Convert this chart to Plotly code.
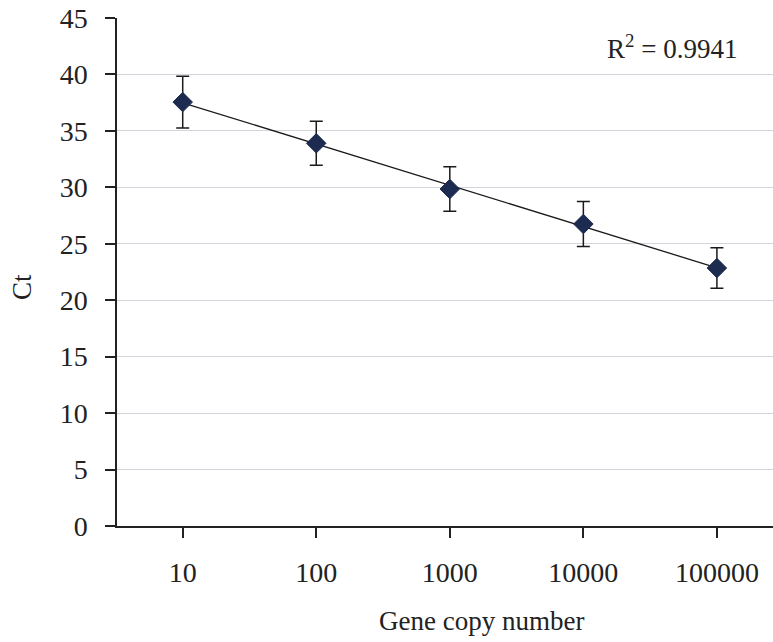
import numpy as np
import plotly.graph_objects as go

copies = [10, 100, 1000, 10000, 100000]
tick_labels = ["10", "100", "1000", "10000", "100000"]
ct_mean = [37.55, 33.9, 29.85, 26.75, 22.85]
ct_err = [2.3, 1.95, 1.97, 2.0, 1.8]
r2_text = "R<sup>2</sup> = 0.9941"

# linear trend of Ct vs log10(copies)
lx = np.log10(copies)
slope, intercept = np.polyfit(lx, ct_mean, 1)
trend_x = [copies[0], copies[-1]]
trend_y = [intercept + slope * np.log10(v) for v in trend_x]

FONT = "Liberation Serif"
FS = 27
TFS = 28
fig = go.Figure()
fig.add_trace(go.Scatter(
    x=trend_x, y=trend_y, mode="lines",
    line=dict(color="#1a1a1a", width=1.3), hoverinfo="skip", showlegend=False))
fig.add_trace(go.Scatter(
    x=copies, y=ct_mean, mode="markers",
    marker=dict(symbol="diamond", size=15, color="#1c2b4f",
                line=dict(color="#1c2b4f", width=1)),
    error_y=dict(type="data", array=ct_err, visible=True,
                 color="#1a1a1a", thickness=1.5, width=6.5),
    showlegend=False))

fig.update_layout(
    width=773, height=642,
    margin=dict(l=117, r=0, t=18, b=116),
    paper_bgcolor="white", plot_bgcolor="white",
    font=dict(family=FONT, size=FS, color="#222222"),
    xaxis=dict(type="log", range=[0.508, 5.42],
               tickvals=copies, ticktext=tick_labels,
               tickfont=dict(family=FONT, size=TFS, color="#222"),
               ticks="outside", ticklen=10, tickwidth=1.5, tickcolor="#222",
               showline=True, linecolor="#222", linewidth=1.5,
               showgrid=False, zeroline=False, ticklabelstandoff=11),
    yaxis=dict(range=[0, 45], tickvals=list(range(0, 46, 5)),
               tickfont=dict(family=FONT, size=TFS, color="#222"),
               ticks="outside", ticklen=10, tickwidth=1.5, tickcolor="#222",
               showline=True, linecolor="#222", linewidth=1.5,
               showgrid=True, gridcolor="#d3d5dc", gridwidth=1,
               zeroline=False, ticklabelstandoff=12),
    annotations=[
        dict(text=r2_text, xref="paper", yref="paper", x=0.846, y=0.943,
             xanchor="center", yanchor="middle", showarrow=False,
             font=dict(family=FONT, size=FS, color="#222")),
        dict(text="Gene copy number", xref="paper", yref="paper", x=0.556, y=-0.187,
             xanchor="center", yanchor="middle", showarrow=False,
             font=dict(family=FONT, size=FS, color="#222")),
        dict(text="Ct", xref="paper", yref="paper", x=-0.145, y=0.47,
             xanchor="center", yanchor="middle", showarrow=False, textangle=-90,
             font=dict(family=FONT, size=FS, color="#222")),
    ],
)
fig.write_html("out.html")
